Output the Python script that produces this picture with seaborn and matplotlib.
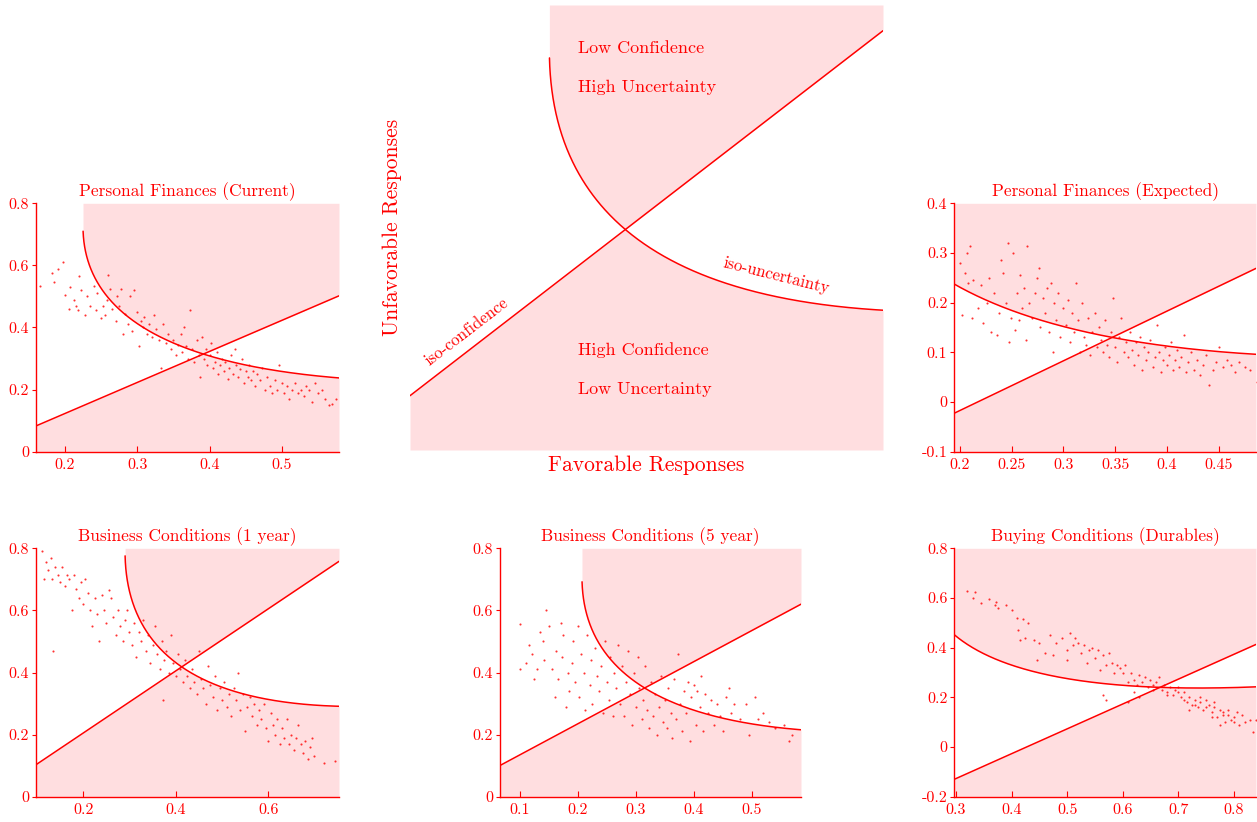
import numpy as np
import matplotlib
matplotlib.use("Agg")
import matplotlib.pyplot as plt
import seaborn as sns

RED = "#FF0000"
PINK = "#FFDEE0"

sns.set_style("white")
plt.rcParams["font.family"] = ["cmr10", "DejaVu Serif"]
plt.rcParams["axes.unicode_minus"] = False

# ---------------------------------------------------------------- survey data
# Share of favorable (x) and unfavorable (y) responses per survey wave.
pf_current_fav = [0.165, 0.182, 0.185, 0.19, 0.197, 0.2, 0.205, 0.207, 0.212, 0.215, 0.218, 0.22, 0.222,
                  0.228, 0.23, 0.235, 0.24, 0.243, 0.245, 0.25, 0.252, 0.255, 0.258, 0.26, 0.262, 0.265,
                  0.27, 0.272, 0.275, 0.278, 0.28, 0.283, 0.287, 0.29, 0.293, 0.296, 0.3, 0.302, 0.305,
                  0.308, 0.31, 0.313, 0.316, 0.32, 0.323, 0.326, 0.33, 0.333, 0.336, 0.34, 0.343, 0.346,
                  0.35, 0.353, 0.356, 0.36, 0.362, 0.365, 0.368, 0.37, 0.373, 0.376, 0.379, 0.382, 0.385,
                  0.387, 0.39, 0.392, 0.395, 0.397, 0.4, 0.402, 0.405, 0.407, 0.41, 0.412, 0.415, 0.417,
                  0.42, 0.422, 0.425, 0.427, 0.43, 0.432, 0.435, 0.437, 0.44, 0.442, 0.445, 0.447, 0.45,
                  0.453, 0.455, 0.458, 0.46, 0.463, 0.466, 0.47, 0.473, 0.476, 0.48, 0.483, 0.486, 0.49,
                  0.493, 0.496, 0.5, 0.503, 0.507, 0.51, 0.514, 0.518, 0.522, 0.526, 0.53, 0.534, 0.538,
                  0.542, 0.546, 0.55, 0.555, 0.56, 0.565, 0.57, 0.575]
pf_current_unf = [0.535, 0.575, 0.548, 0.59, 0.61, 0.505, 0.46, 0.53, 0.49, 0.47, 0.455, 0.565, 0.52,
                  0.44, 0.5, 0.47, 0.535, 0.455, 0.51, 0.43, 0.47, 0.44, 0.49, 0.57, 0.525, 0.46,
                  0.42, 0.5, 0.47, 0.525, 0.38, 0.445, 0.41, 0.5, 0.39, 0.52, 0.45, 0.34, 0.42,
                  0.4, 0.435, 0.38, 0.41, 0.37, 0.44, 0.395, 0.36, 0.27, 0.41, 0.35, 0.38, 0.33,
                  0.36, 0.31, 0.345, 0.38, 0.32, 0.4, 0.34, 0.3, 0.455, 0.33, 0.29, 0.36, 0.31,
                  0.24, 0.37, 0.3, 0.33, 0.28, 0.31, 0.35, 0.27, 0.29, 0.32, 0.25, 0.28, 0.3,
                  0.26, 0.29, 0.235, 0.27, 0.31, 0.25, 0.33, 0.28, 0.24, 0.265, 0.3, 0.22, 0.26,
                  0.24, 0.28, 0.23, 0.26, 0.21, 0.25, 0.23, 0.27, 0.2, 0.24, 0.21, 0.19, 0.23,
                  0.2, 0.28, 0.22, 0.19, 0.21, 0.17, 0.2, 0.22, 0.19, 0.2, 0.18, 0.21, 0.2,
                  0.16, 0.22, 0.19, 0.2, 0.17, 0.15, 0.155, 0.17]

pf_expected_fav = [0.2, 0.202, 0.205, 0.207, 0.208, 0.21, 0.212, 0.213, 0.217, 0.22, 0.222, 0.226, 0.228,
                   0.23, 0.233, 0.236, 0.238, 0.24, 0.242, 0.244, 0.246, 0.247, 0.249, 0.251, 0.253,
                   0.255, 0.257, 0.258, 0.26, 0.262, 0.264, 0.265, 0.267, 0.27, 0.272, 0.274, 0.276,
                   0.277, 0.28, 0.282, 0.284, 0.286, 0.288, 0.29, 0.291, 0.293, 0.295, 0.297, 0.3,
                   0.302, 0.304, 0.306, 0.308, 0.31, 0.312, 0.314, 0.316, 0.318, 0.32, 0.322, 0.324,
                   0.326, 0.328, 0.33, 0.332, 0.334, 0.336, 0.338, 0.34, 0.342, 0.344, 0.346, 0.348,
                   0.35, 0.352, 0.354, 0.356, 0.358, 0.36, 0.362, 0.364, 0.366, 0.368, 0.37, 0.372,
                   0.374, 0.376, 0.378, 0.38, 0.382, 0.384, 0.386, 0.388, 0.39, 0.392, 0.394, 0.396,
                   0.398, 0.4, 0.402, 0.404, 0.406, 0.408, 0.41, 0.412, 0.414, 0.416, 0.418, 0.42,
                   0.423, 0.426, 0.429, 0.432, 0.435, 0.438, 0.441, 0.444, 0.447, 0.45, 0.454, 0.458,
                   0.462, 0.466, 0.47, 0.475, 0.48, 0.487]
pf_expected_unf = [0.28, 0.175, 0.26, 0.3, 0.24, 0.315, 0.17, 0.245, 0.19, 0.235, 0.16, 0.2, 0.25,
                   0.14, 0.22, 0.135, 0.18, 0.285, 0.26, 0.2, 0.32, 0.12, 0.17, 0.3, 0.145,
                   0.22, 0.165, 0.255, 0.19, 0.23, 0.125, 0.315, 0.2, 0.17, 0.22, 0.25, 0.27,
                   0.15, 0.21, 0.18, 0.23, 0.14, 0.24, 0.1, 0.2, 0.165, 0.22, 0.13, 0.19,
                   0.155, 0.205, 0.12, 0.18, 0.14, 0.24, 0.165, 0.1, 0.2, 0.13, 0.115, 0.17,
                   0.095, 0.14, 0.18, 0.11, 0.15, 0.125, 0.1, 0.165, 0.115, 0.09, 0.14, 0.21,
                   0.11, 0.08, 0.13, 0.17, 0.1, 0.12, 0.09, 0.14, 0.105, 0.075, 0.12, 0.095,
                   0.13, 0.065, 0.11, 0.085, 0.1, 0.125, 0.07, 0.09, 0.155, 0.1, 0.06, 0.085,
                   0.11, 0.075, 0.095, 0.12, 0.065, 0.085, 0.105, 0.07, 0.09, 0.135, 0.06, 0.08,
                   0.1, 0.065, 0.085, 0.055, 0.075, 0.095, 0.035, 0.065, 0.08, 0.11, 0.07, 0.085,
                   0.075, 0.06, 0.08, 0.07, 0.065, 0.04]

bc1_fav = [0.11, 0.115, 0.12, 0.125, 0.13, 0.133, 0.135, 0.14, 0.145, 0.15, 0.155, 0.16, 0.165, 0.17,
           0.175, 0.18, 0.185, 0.19, 0.195, 0.2, 0.205, 0.21, 0.215, 0.22, 0.225, 0.23, 0.235, 0.24,
           0.245, 0.25, 0.255, 0.26, 0.265, 0.27, 0.275, 0.28, 0.285, 0.29, 0.295, 0.3, 0.305, 0.31,
           0.315, 0.32, 0.325, 0.33, 0.335, 0.34, 0.345, 0.35, 0.355, 0.36, 0.365, 0.37, 0.372,
           0.375, 0.38, 0.385, 0.39, 0.395, 0.4, 0.405, 0.41, 0.415, 0.42, 0.425, 0.43, 0.435, 0.44,
           0.445, 0.45, 0.455, 0.46, 0.465, 0.47, 0.475, 0.48, 0.485, 0.49, 0.495, 0.5, 0.505, 0.51,
           0.515, 0.52, 0.525, 0.53, 0.535, 0.54, 0.545, 0.55, 0.555, 0.56, 0.565, 0.57, 0.575, 0.58,
           0.585, 0.59, 0.595, 0.6, 0.605, 0.61, 0.615, 0.62, 0.625, 0.63, 0.635, 0.64, 0.645, 0.65,
           0.655, 0.66, 0.665, 0.67, 0.675, 0.68, 0.685, 0.69, 0.695, 0.7, 0.72, 0.745]
bc1_unf = [0.79, 0.7, 0.755, 0.73, 0.77, 0.7, 0.47, 0.74, 0.715, 0.69, 0.74, 0.68, 0.715, 0.7,
           0.6, 0.715, 0.67, 0.64, 0.69, 0.62, 0.7, 0.655, 0.6, 0.55, 0.64, 0.59, 0.5, 0.65,
           0.6, 0.56, 0.665, 0.64, 0.58, 0.52, 0.6, 0.55, 0.5, 0.57, 0.6, 0.53, 0.49, 0.56,
           0.45, 0.53, 0.5, 0.57, 0.47, 0.52, 0.43, 0.49, 0.55, 0.46, 0.41, 0.5, 0.31,
           0.44, 0.47, 0.4, 0.52, 0.43, 0.39, 0.46, 0.41, 0.37, 0.44, 0.39, 0.35, 0.41, 0.37,
           0.33, 0.47, 0.38, 0.35, 0.3, 0.42, 0.36, 0.32, 0.39, 0.28, 0.35, 0.31, 0.37, 0.29,
           0.33, 0.26, 0.35, 0.31, 0.4, 0.28, 0.33, 0.21, 0.29, 0.32, 0.26, 0.3, 0.23, 0.28,
           0.25, 0.3, 0.22, 0.18, 0.27, 0.23, 0.2, 0.25, 0.17, 0.22, 0.19, 0.25, 0.17, 0.2,
           0.15, 0.19, 0.23, 0.17, 0.14, 0.18, 0.12, 0.16, 0.19, 0.13, 0.11, 0.115]

bc5_fav = [0.1, 0.1, 0.11, 0.115, 0.12, 0.125, 0.13, 0.135, 0.14, 0.142, 0.145, 0.15, 0.155, 0.16,
           0.162, 0.165, 0.17, 0.172, 0.175, 0.18, 0.182, 0.185, 0.19, 0.192, 0.195, 0.2, 0.202,
           0.205, 0.21, 0.212, 0.215, 0.22, 0.222, 0.225, 0.23, 0.233, 0.236, 0.24, 0.243, 0.246,
           0.25, 0.253, 0.256, 0.26, 0.263, 0.266, 0.27, 0.273, 0.276, 0.28, 0.283, 0.286, 0.29,
           0.293, 0.296, 0.3, 0.303, 0.306, 0.31, 0.313, 0.316, 0.32, 0.323, 0.326, 0.33, 0.333,
           0.336, 0.34, 0.343, 0.346, 0.35, 0.353, 0.356, 0.36, 0.363, 0.366, 0.37, 0.373, 0.376,
           0.38, 0.383, 0.386, 0.39, 0.393, 0.396, 0.4, 0.403, 0.406, 0.41, 0.413, 0.416, 0.42,
           0.425, 0.43, 0.435, 0.44, 0.445, 0.45, 0.455, 0.46, 0.465, 0.47, 0.48, 0.49, 0.495,
           0.505, 0.51, 0.52, 0.53, 0.54, 0.555, 0.565, 0.57]
bc5_unf = [0.41, 0.555, 0.43, 0.49, 0.46, 0.38, 0.41, 0.53, 0.5, 0.44, 0.6, 0.55, 0.41, 0.32,
           0.47, 0.38, 0.56, 0.45, 0.52, 0.29, 0.4, 0.34, 0.43, 0.5, 0.37, 0.55, 0.32,
           0.46, 0.4, 0.28, 0.52, 0.36, 0.44, 0.3, 0.48, 0.39, 0.34, 0.42, 0.27, 0.5,
           0.37, 0.31, 0.45, 0.26, 0.4, 0.35, 0.49, 0.3, 0.42, 0.26, 0.37, 0.47, 0.33,
           0.23, 0.4, 0.29, 0.45, 0.35, 0.25, 0.31, 0.42, 0.28, 0.22, 0.37, 0.26, 0.33,
           0.2, 0.29, 0.39, 0.24, 0.31, 0.22, 0.35, 0.27, 0.19, 0.38, 0.25, 0.46, 0.3,
           0.21, 0.34, 0.27, 0.37, 0.18, 0.32, 0.36, 0.23, 0.34, 0.29, 0.39, 0.21, 0.33,
           0.27, 0.31, 0.23, 0.3, 0.26, 0.21, 0.32, 0.35, 0.27, 0.3, 0.25, 0.3, 0.2,
           0.32, 0.25, 0.27, 0.24, 0.22, 0.23, 0.18, 0.2]

dur_fav = [0.32, 0.33, 0.335, 0.345, 0.36, 0.37, 0.372, 0.375, 0.39, 0.4, 0.41, 0.412, 0.415, 0.42,
           0.425, 0.43, 0.44, 0.445, 0.45, 0.46, 0.47, 0.475, 0.48, 0.49, 0.5, 0.5, 0.505, 0.51,
           0.515, 0.52, 0.525, 0.53, 0.535, 0.54, 0.545, 0.55, 0.555, 0.56, 0.565, 0.57, 0.575,
           0.58, 0.585, 0.59, 0.595, 0.6, 0.605, 0.61, 0.615, 0.62, 0.625, 0.63, 0.635, 0.64,
           0.645, 0.65, 0.655, 0.66, 0.665, 0.67, 0.675, 0.68, 0.685, 0.69, 0.695, 0.7, 0.705,
           0.71, 0.715, 0.72, 0.725, 0.73, 0.735, 0.74, 0.745, 0.75, 0.755, 0.76, 0.765, 0.77,
           0.775, 0.78, 0.785, 0.79, 0.795, 0.8, 0.805, 0.81, 0.815, 0.82, 0.83, 0.835, 0.84,
           0.62, 0.63, 0.655, 0.68, 0.7, 0.71, 0.73, 0.75, 0.765, 0.78, 0.79, 0.8, 0.565, 0.57,
           0.61, 0.72, 0.74, 0.76, 0.775]
dur_unf = [0.63, 0.6, 0.625, 0.58, 0.595, 0.57, 0.585, 0.56, 0.57, 0.55, 0.52, 0.47, 0.43, 0.515,
           0.44, 0.5, 0.43, 0.35, 0.42, 0.38, 0.45, 0.37, 0.42, 0.44, 0.39, 0.35, 0.46, 0.41,
           0.44, 0.42, 0.38, 0.41, 0.34, 0.39, 0.4, 0.36, 0.39, 0.31, 0.37, 0.33, 0.38,
           0.34, 0.3, 0.33, 0.32, 0.3, 0.33, 0.26, 0.3, 0.27, 0.25, 0.29, 0.26, 0.28,
           0.24, 0.27, 0.25, 0.26, 0.28, 0.23, 0.25, 0.22, 0.24, 0.21, 0.23, 0.24, 0.2,
           0.22, 0.18, 0.2, 0.17, 0.19, 0.16, 0.18, 0.15, 0.19, 0.17, 0.14, 0.16, 0.12,
           0.15, 0.14, 0.1, 0.13, 0.11, 0.12, 0.14, 0.09, 0.13, 0.1, 0.11, 0.06, 0.11,
           0.22, 0.2, 0.23, 0.21, 0.22, 0.19, 0.17, 0.16, 0.18, 0.13, 0.15, 0.1, 0.21, 0.19,
           0.18, 0.15, 0.2, 0.12, 0.09]

# ---------------------------------------------------------------- panel settings
panel_titles = ["Personal Finances (Current)", "Personal Finances (Expected)",
                "Business Conditions (1 year)", "Business Conditions (5 year)",
                "Buying Conditions (Durables)"]
panel_fav = [pf_current_fav, pf_expected_fav, bc1_fav, bc5_fav, dur_fav]
panel_unf = [pf_current_unf, pf_expected_unf, bc1_unf, bc5_unf, dur_unf]
# iso-confidence: unfavorable = favorable - conf_level
conf_levels = [0.077, 0.217, -0.005, -0.035, 0.427]
# iso-uncertainty: fav + unf - (fav - unf)^2 = unc_level
unc_levels = [0.70, 0.43, 0.831, 0.664, 0.725]
x_limits = [(0.16, 0.579), (0.1945, 0.486), (0.098, 0.753), (0.0655, 0.585), (0.297, 0.84)]
y_limits = [(0.0, 0.8), (-0.1, 0.4), (0.0, 0.8), (0.0, 0.8), (-0.2, 0.8)]
x_ticks = [[0.2, 0.3, 0.4, 0.5], [0.2, 0.25, 0.3, 0.35, 0.4, 0.45], [0.2, 0.4, 0.6],
           [0.1, 0.2, 0.3, 0.4, 0.5], [0.3, 0.4, 0.5, 0.6, 0.7, 0.8]]
y_ticks = [[0, 0.2, 0.4, 0.6, 0.8], [-0.1, 0, 0.1, 0.2, 0.3, 0.4], [0, 0.2, 0.4, 0.6, 0.8],
           [0, 0.2, 0.4, 0.6, 0.8], [-0.2, 0, 0.2, 0.4, 0.6, 0.8]]

W, H = 1257, 822
# axes boxes in pixels: left, top, right, bottom
panel_boxes = [(36, 203.3, 339, 451.7), (954.3, 203.3, 1256, 451.7),
               (36, 548.3, 339, 796.7), (500, 548.3, 801, 796.7),
               (954.3, 548.3, 1256, 796.7)]
center_box = (410, 5, 883, 450)


def box_axes(fig, box):
    l, t, r, b = box
    return fig.add_axes([l / W, 1 - b / H, (r - l) / W, (b - t) / H])


def iso_uncertainty(level, x_max, n=500, e_start=0.0):
    """Lower branch of fav + unf - (fav - unf)^2 = level, from its vertex rightwards."""
    f0 = (level - 0.25) / 2
    u0 = (level + 0.75) / 2
    e = np.linspace(e_start, np.sqrt(2 * max(x_max - f0, 1e-6)), n)
    return f0 + e ** 2 / 2, u0 + e ** 2 / 2 - e, f0


def draw_regions(ax, level, slope, icpt, xlim, ylim):
    xc, yc, f0 = iso_uncertainty(level, xlim[1])
    yl = slope * xc + icpt
    # low confidence / high uncertainty
    ax.fill_between(xc, np.maximum(yc, yl), ylim[1], color=PINK, lw=0, zorder=0)
    # high confidence / low uncertainty (one polygon, so no seam at the vertex)
    if f0 > xlim[0]:
        xs = np.linspace(xlim[0], f0, 60, endpoint=False)
        xb = np.concatenate([xs, xc])
        yb = np.concatenate([slope * xs + icpt, np.minimum(yc, yl)])
    else:
        xb, yb = xc, np.minimum(yc, yl)
    ax.fill_between(xb, ylim[0], yb, color=PINK, lw=0, zorder=0)
    # the two iso lines
    xcl, ycl, _ = iso_uncertainty(level, xlim[1], e_start=0.015)
    sns.lineplot(x=xcl, y=ycl, sort=False, estimator=None, color=RED, lw=1.1, ax=ax, zorder=3)
    xs_line = np.array(xlim)
    sns.lineplot(x=xs_line, y=slope * xs_line + icpt, sort=False, estimator=None,
                 color=RED, lw=1.1, ax=ax, zorder=3)


fig = plt.figure(figsize=(W / 100, H / 100), dpi=100)

for i in range(5):
    ax = box_axes(fig, panel_boxes[i])
    xlim, ylim = x_limits[i], y_limits[i]
    draw_regions(ax, unc_levels[i], 1.0, -conf_levels[i], xlim, ylim)
    sns.scatterplot(x=panel_fav[i], y=panel_unf[i], s=2.3, color=RED, alpha=0.8,
                    linewidth=0, ax=ax, zorder=4)
    ax.set_xlim(*xlim)
    ax.set_ylim(*ylim)
    ax.set_xticks(x_ticks[i])
    ax.set_xticklabels([f"{round(t, 3):g}" for t in x_ticks[i]])
    ax.set_yticks(y_ticks[i])
    ax.set_yticklabels([f"{round(t, 3):g}" for t in y_ticks[i]])
    ax.tick_params(axis="x", direction="in", length=4, width=0.8, color=RED,
                   labelcolor=RED, labelsize=11.5, pad=5, bottom=True)
    ax.tick_params(axis="y", direction="out", length=3, width=0.8, color=RED,
                   labelcolor=RED, labelsize=11.5, pad=2, left=True)
    for side in ("top", "right"):
        ax.spines[side].set_visible(False)
    for side in ("left", "bottom"):
        ax.spines[side].set_color(RED)
        ax.spines[side].set_linewidth(1.0)
        ax.spines[side].set_zorder(5)
    ax.set_xlabel("")
    ax.set_ylabel("")
    ax.set_title(panel_titles[i], color=RED, fontsize=12.5, pad=5)

# ---------------------------------------------------------------- schematic
cax = box_axes(fig, center_box)
c_xlim, c_ylim = (0.0, 0.6), (-0.087, 0.763)
c_slope, c_icpt, c_level = 1.162, 0.0167, 0.6036
draw_regions(cax, c_level, c_slope, c_icpt, c_xlim, c_ylim)
cax.set_xlim(*c_xlim)
cax.set_ylim(*c_ylim)
cax.set_xticks([])
cax.set_yticks([])
for sp in cax.spines.values():
    sp.set_visible(False)
cax.set_xlabel("Favorable Responses", color=RED, fontsize=15.5, labelpad=4)
cax.set_ylabel("Unfavorable Responses", color=RED, fontsize=15.5, labelpad=6)

quad_text = {"Low Confidence": 0.681, "High Uncertainty": 0.606,
             "High Confidence": 0.104, "Low Uncertainty": 0.0295}
for label, yy in quad_text.items():
    cax.text(0.213, yy, label, color=RED, fontsize=13, ha="left", va="center")
cax.text(0.072, 0.139, "iso-confidence", color=RED, fontsize=12, rotation=37.5,
         ha="center", va="center", rotation_mode="anchor")
cax.text(0.4645, 0.2454, "iso-uncertainty", color=RED, fontsize=12, rotation=-14,
         ha="center", va="center", rotation_mode="anchor")

fig.savefig("out.png", dpi=100)
